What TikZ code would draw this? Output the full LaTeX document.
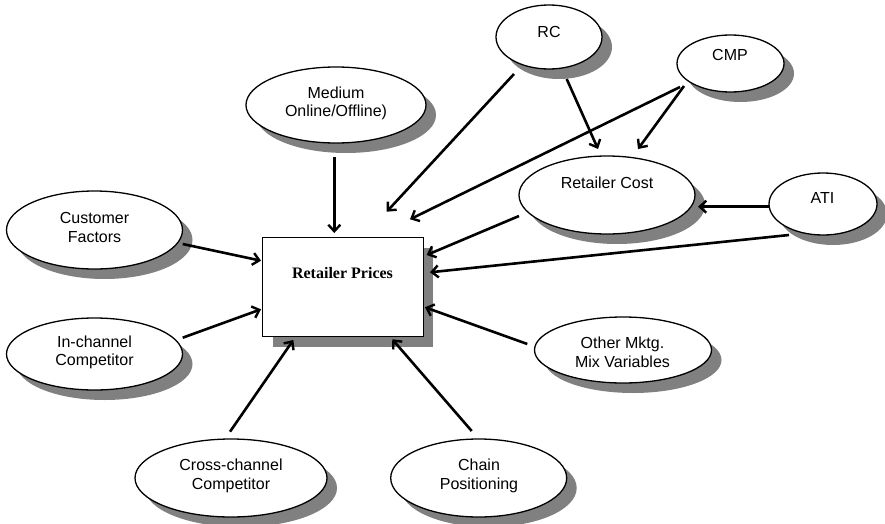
\documentclass[tikz,border=0pt]{standalone}
\usepackage{fontspec}
\setmainfont{Liberation Sans}
\newfontfamily\timesfam{Liberation Serif}
\usetikzlibrary{shapes.geometric,arrows.meta,shadows}
\definecolor{shadowgray}{HTML}{808080}
\begin{document}
\begin{tikzpicture}[x=1pt,y=-1pt,
  shad/.style={drop shadow={shadow xshift=10pt, shadow yshift=-10pt, fill=shadowgray, opacity=1}},
  ell/.style={ellipse, draw, line width=1.3pt, fill=white, inner sep=0pt, shad},
  boxnode/.style={rectangle, draw, line width=1.3pt, fill=white, inner sep=0pt, shad},
  txt/.style={align=center, inner sep=0pt, font=\fontsize{16pt}{18.5pt}\selectfont},
  btxt/.style={inner sep=0pt, font=\timesfam\bfseries\fontsize{16pt}{18.5pt}\selectfont},
  arr/.style={line width=2.6pt, -{Straight Barb[length=6.5pt,width=12pt,line width=2.4pt]}}
]
\fill[white] (0,0) rectangle (885,524);
\useasboundingbox (0,0) rectangle (885,524);

% central box
\node[boxnode, minimum width=160.6pt, minimum height=99pt] (rp) at (343,287.2) {};
\node[btxt] (rpt) at (342.5,273) {Retailer Prices};

% ellipses
\node[ell, minimum width=106pt, minimum height=64pt] (rc) at (549,37) {};
\node[txt] (rct) at (549,32) {RC};
\node[ell, minimum width=107pt, minimum height=57pt] (cmp) at (730.5,63.5) {};
\node[txt] (cmpt) at (730,55) {CMP};
\node[ell, minimum width=176pt, minimum height=78pt] (rcost) at (607,195) {};
\node[txt] (rcostt) at (607,183) {Retailer Cost};
\node[ell, minimum width=108pt, minimum height=62pt] (ati) at (823,204) {};
\node[txt] (atit) at (822.5,198) {ATI};
\node[ell, minimum width=180pt, minimum height=76pt] (med) at (336,105) {};
\node[txt] (medt) at (336,103.5) {Medium\\Online/Offline)};
\node[ell, minimum width=176pt, minimum height=78pt] (cust) at (94.5,230) {};
\node[txt] (custt) at (94.5,227.5) {Customer\\Factors};
\node[ell, minimum width=176pt, minimum height=72pt] (inch) at (94.5,354) {};
\node[txt] (incht) at (94.5,352.5) {In-channel\\Competitor};
\node[ell, minimum width=192pt, minimum height=78pt] (cross) at (231,478) {};
\node[txt] (crosst) at (231,476) {Cross-channel\\Competitor};
\node[ell, minimum width=176pt, minimum height=78pt] (chain) at (478.7,478) {};
\node[txt] (chaint) at (479,476) {Chain\\Positioning};
\node[ell, minimum width=177pt, minimum height=66pt] (other) at (623,350) {};
\node[txt] (othert) at (622.5,352.3) {Other Mktg.\\Mix Variables};

% arrow end points
\coordinate (a1s) at (334.3,157);   \coordinate (a1e) at (334.3,233);
\coordinate (a2s) at (182.7,244);   \coordinate (a2e) at (261,260.7);
\coordinate (a3s) at (182.7,337.7); \coordinate (a3e) at (261,309.3);
\coordinate (a4s) at (230,431.7);   \coordinate (a4e) at (293.3,340);
\coordinate (a5s) at (471.7,431);   \coordinate (a5e) at (392.3,339.3);
\coordinate (a6s) at (527.3,344);   \coordinate (a6e) at (425,307.3);
\coordinate (a7s) at (789,235);     \coordinate (a7e) at (430,272.3);
\coordinate (a8s) at (519,216);     \coordinate (a8e) at (426.7,255);
\coordinate (a9s) at (514,74);      \coordinate (a9e) at (386.7,211.7);
\coordinate (a10s) at (680,87);     \coordinate (a10e) at (410,219.3);
\coordinate (a11s) at (566.7,79);   \coordinate (a11e) at (598,149);
\coordinate (a12s) at (684,86);     \coordinate (a12e) at (638,149);
\coordinate (a13s) at (769,206.7);  \coordinate (a13e) at (698,206.7);

\draw[arr] (a1s) -- (a1e);
\draw[arr] (a2s) -- (a2e);
\draw[arr] (a3s) -- (a3e);
\draw[arr] (a4s) -- (a4e);
\draw[arr] (a5s) -- (a5e);
\draw[arr] (a6s) -- (a6e);
\draw[arr] (a7s) -- (a7e);
\draw[arr] (a8s) -- (a8e);
\draw[arr] (a9s) -- (a9e);
\draw[arr] (a10s) -- (a10e);
\draw[arr] (a11s) -- (a11e);
\draw[arr] (a12s) -- (a12e);
\draw[arr] (a13s) -- (a13e);
\end{tikzpicture}
\end{document}
